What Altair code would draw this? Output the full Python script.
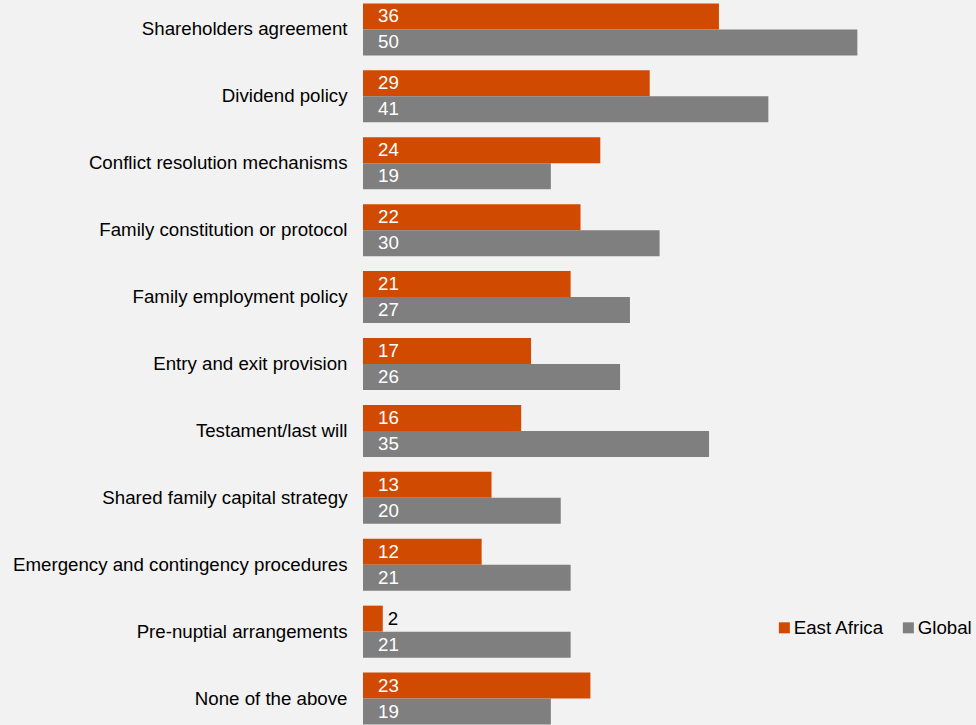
import altair as alt
import pandas as pd

categories = [
    "Shareholders agreement",
    "Dividend policy",
    "Conflict resolution mechanisms",
    "Family constitution or protocol",
    "Family employment policy",
    "Entry and exit provision",
    "Testament/last will",
    "Shared family capital strategy",
    "Emergency and contingency procedures",
    "Pre-nuptial arrangements",
    "None of the above",
]
east_africa = [36, 29, 24, 22, 21, 17, 16, 13, 12, 2, 23]
global_vals = [50, 41, 19, 30, 27, 26, 35, 20, 21, 21, 19]
series = ["East Africa", "Global"]
colors = ["#D04A02", "#7F7F7F"]

rows = []
for c, e, g in zip(categories, east_africa, global_vals):
    rows.append({"cat": c, "series": series[0], "value": e})
    rows.append({"cat": c, "series": series[1], "value": g})
df = pd.DataFrame(rows)

FONT = "Liberation Sans"
FS = 18.7

y_enc = alt.Y("cat:N", sort=categories, title=None,
              scale=alt.Scale(paddingInner=0.2227, paddingOuter=0.111),
              axis=alt.Axis(ticks=False, domain=False, labelFont=FONT,
                            labelFontSize=FS, labelColor="#000000",
                            labelPadding=16, labelLimit=400))
yoff = alt.YOffset("series:N", sort=series, scale=alt.Scale(paddingInner=0, paddingOuter=0))
x_enc = alt.X("value:Q", title=None, scale=alt.Scale(domain=[0, 62], nice=False),
              axis=None)

bars = alt.Chart(df).mark_bar().encode(
    y=y_enc,
    yOffset=yoff,
    x=x_enc,
    color=alt.Color("series:N", sort=series,
                    scale=alt.Scale(domain=series, range=colors),
                    legend=alt.Legend(title=None, orient="none", direction="horizontal",
                                      legendX=412, legendY=622, symbolType="square",
                                      symbolSize=121, labelFont=FONT, labelFontSize=FS,
                                      labelColor="#000000", columnPadding=14,
                                      labelOffset=0, padding=0,
                                      symbolStrokeWidth=0)),
)

inside = alt.Chart(df).transform_filter("datum.value >= 5").mark_text(
    align="left", baseline="middle", dx=15, font=FONT, fontSize=FS, color="#FFFFFF"
).encode(
    y=alt.Y("cat:N", sort=categories),
    yOffset=yoff,
    x=alt.datum(0),
    text=alt.Text("value:Q"),
)

outside = alt.Chart(df).transform_filter("datum.value < 5").mark_text(
    align="left", baseline="middle", dx=5, font=FONT, fontSize=FS, color="#000000"
).encode(
    y=alt.Y("cat:N", sort=categories),
    yOffset=yoff,
    x=alt.X("value:Q"),
    text=alt.Text("value:Q"),
)

chart = alt.layer(bars, inside, outside).properties(
    width=613, height=736,
    background="#F2F2F2",
    autosize=alt.AutoSizeParams(type="none"),
    padding={"left": 363, "top": -4, "right": 0, "bottom": 0},
).configure_view(stroke=None).configure_axis(grid=False)

chart.save("out.html", embed_options={"renderer": "svg", "actions": False})
